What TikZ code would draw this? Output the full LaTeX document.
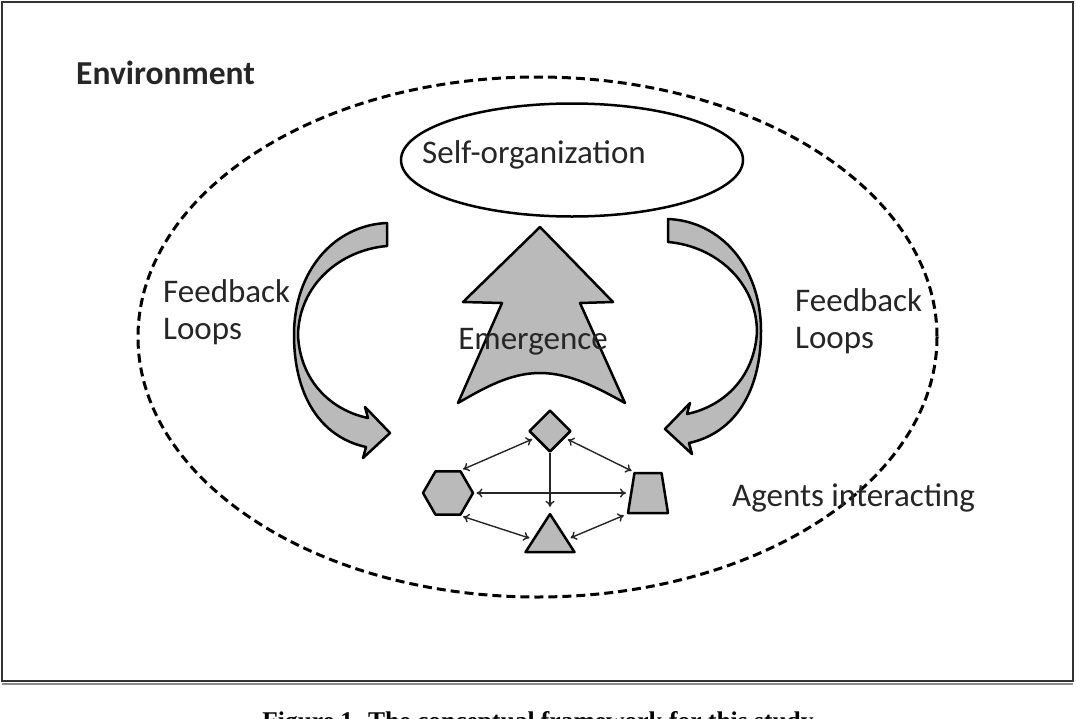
\documentclass[tikz,border=0pt]{standalone}
\usepackage{fontspec}
\setmainfont{Carlito}
\newfontfamily\capfont{Liberation Serif}
\usetikzlibrary{shapes.geometric,arrows.meta}
\begin{document}
\begin{tikzpicture}[x=1pt,y=-1pt,
  shp/.style={draw=black, fill=black!27, line width=2.5pt, line join=round},
  agent/.style={shp, inner sep=0pt},
  lbl/.style={font=\fontsize{33}{37}\selectfont, text=black!85, inner sep=0pt, align=left},
  link/.style={line width=1.4pt, draw=black!85, >={To[length=6pt,width=9pt]}},
  envline/.style={dash pattern=on 9pt off 5pt, line width=3pt}]
\useasboundingbox (0,0) rectangle (1076,718);
\clip (0,0) rectangle (1076,718);
\fill[white] (0,0) rectangle (1076,718);
% frame
\draw[line width=1.5pt, black!80] (2,2) rectangle (1073,681);
\draw[line width=2pt, black!45] (2,684) -- (1073,684);
% environment
\draw[envline] (537.5,337) ellipse [x radius=399.5, y radius=260];
\node[lbl, anchor=west, font=\fontsize{33.5}{36}\selectfont\bfseries] (env) at (76,73) {Environment};
% self-organization
\node[draw=black, fill=white, line width=2.5pt, ellipse, minimum width=342pt, minimum height=113pt, inner sep=0pt] (selforg) at (572,160) {};
\node[lbl] (selftxt) at (534,155) {Self-organization};
% emergence arrow
\path[shp] (540,227) -- (613,302) -- (580,303) -- (625,403)
  .. controls (598,388) and (570,373) .. (540,373)
  .. controls (510,373) and (484,388) .. (458,403)
  -- (502,303) -- (463,302) -- cycle;
\node[lbl] (emtxt) at (533,342) {Emergence};
% left feedback arrow
\path[shp] (387,223) -- (387,246)
  .. controls (340,250) and (299,285) .. (298,335)
  .. controls (300,380) and (330,410) .. (368,418)
  -- (365,407) -- (390,433) -- (363,458) -- (366,447)
  .. controls (320,437) and (294,395) .. (294,335)
  .. controls (294,270) and (335,225) .. (387,223) -- cycle;
% right feedback arrow (mirror)
\begin{scope}[xshift=1055pt, xscale=-1, yshift=4pt]
\path[shp] (387,223) -- (387,246)
  .. controls (340,250) and (299,285) .. (298,335)
  .. controls (300,380) and (330,410) .. (368,418)
  -- (365,407) -- (390,433) -- (363,458) -- (366,447)
  .. controls (320,437) and (294,395) .. (294,335)
  .. controls (294,270) and (335,225) .. (387,223) -- cycle;
\end{scope}
\node[lbl, anchor=north west] (fbl) at (163,279) {Feedback\\Loops};
\node[lbl, anchor=north west] (fbr) at (795,288) {Feedback\\Loops};
% agents
\node[agent, diamond, minimum width=42pt, minimum height=42pt] (dia) at (550,431) {};
\node[agent, regular polygon, regular polygon sides=6, minimum size=50pt] (hex) at (448,493) {};
\node[agent, inner sep=1pt, trapezium, trapezium stretches=true, trapezium left angle=76.6, trapezium right angle=76.6, minimum width=40pt, minimum height=40pt] (trap) at (648,493) {};
\node[agent, inner sep=1pt, isosceles triangle, shape border rotate=90, isosceles triangle stretches, minimum width=49pt, minimum height=38pt] (tri) at (550,539) {};
\draw[link,<->, shorten <=3pt, shorten >=2pt] (dia.205) -- (hex.60);
\draw[link,<->, shorten <=3pt, shorten >=2pt] (dia.-25) -- (trap.top left corner);
\draw[link,<->, shorten <=2pt, shorten >=4pt] (hex.east) -- (trap.west);
\draw[link,->, shorten >=4pt] (dia.south) -- (tri.apex);
\draw[link,<->, shorten <=2pt, shorten >=3pt] (hex.-60) -- (tri.180);
\draw[link,<->, shorten <=3pt, shorten >=3pt] (tri.0) -- (trap.bottom left corner);
\node[lbl, anchor=west] (agtxt) at (732,498) {Agents interacting};
% caption (cut off at the bottom edge, as in the reference)
\node[inner sep=0pt, anchor=base, font=\capfont\bfseries\fontsize{25.5}{30}\selectfont] (cap) at (538,729) {Figure 1. The conceptual framework for this study};
\end{tikzpicture}
\end{document}
